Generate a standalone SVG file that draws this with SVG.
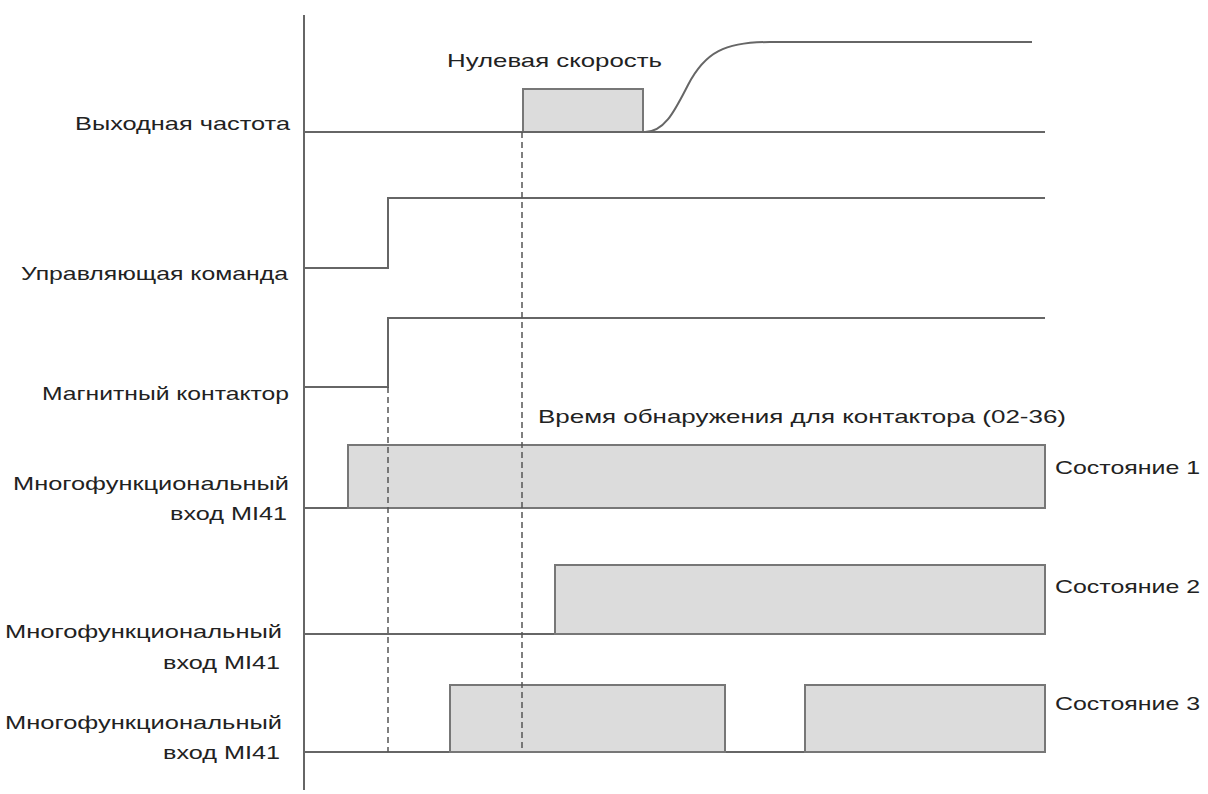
<svg xmlns="http://www.w3.org/2000/svg" width="1208" height="794" viewBox="0 0 1208 794">
<style>
.t{font-family:"Liberation Sans",Arial,sans-serif;font-size:19px;fill:#222}
.r{text-anchor:end}
.ln{fill:none;stroke:#666;stroke-width:2}
.bx{fill:#dcdcdc;stroke:#777;stroke-width:2}
.dash{fill:none;stroke:#555;stroke-width:1.5;stroke-dasharray:6 4}
</style>
<rect width="1208" height="794" fill="#fff"/>
<g id="axis"><line class="ln" x1="304" y1="15" x2="304" y2="790"/></g>
<g id="labels">
<text class="t r" x="290" y="130" textLength="215" lengthAdjust="spacingAndGlyphs">Выходная частота</text>
<text class="t r" x="288" y="280" textLength="267" lengthAdjust="spacingAndGlyphs">Управляющая команда</text>
<text class="t r" x="289" y="400" textLength="247" lengthAdjust="spacingAndGlyphs">Магнитный контактор</text>
<text class="t r" x="289" y="490" textLength="276" lengthAdjust="spacingAndGlyphs">Многофункциональный</text>
<text class="t r" x="287" y="520" textLength="117" lengthAdjust="spacingAndGlyphs">вход MI41</text>
<text class="t r" x="282" y="638" textLength="277" lengthAdjust="spacingAndGlyphs">Многофункциональный</text>
<text class="t r" x="280" y="669" textLength="117" lengthAdjust="spacingAndGlyphs">вход MI41</text>
<text class="t r" x="282" y="729" textLength="277" lengthAdjust="spacingAndGlyphs">Многофункциональный</text>
<text class="t r" x="280" y="759" textLength="117" lengthAdjust="spacingAndGlyphs">вход MI41</text>
<text class="t" x="447" y="67" textLength="215" lengthAdjust="spacingAndGlyphs">Нулевая скорость</text>
<text class="t" x="538" y="423" textLength="528" lengthAdjust="spacingAndGlyphs">Время обнаружения для контактора (02-36)</text>
<text class="t" x="1055" y="474" textLength="145" lengthAdjust="spacingAndGlyphs">Состояние 1</text>
<text class="t" x="1055" y="593" textLength="145" lengthAdjust="spacingAndGlyphs">Состояние 2</text>
<text class="t" x="1055" y="710" textLength="145" lengthAdjust="spacingAndGlyphs">Состояние 3</text>
</g>
<g id="freq">
<rect class="bx" x="523" y="89" width="120" height="43"/>
<line class="ln" x1="304" y1="132" x2="1045" y2="132"/>
<path class="ln" d="M645 132 C665 132 675 110 688 85 C705 52 725 42 770 42 L1032 42"/>
</g>
<g id="cmd"><polyline class="ln" points="304,268 388,268 388,198 1045,198"/></g>
<g id="contactor"><polyline class="ln" points="304,387 388,387 388,318 1045,318"/></g>
<g id="state1">
<line class="ln" x1="304" y1="508" x2="348" y2="508"/>
<rect class="bx" x="348" y="445" width="697" height="63"/>
</g>
<g id="state2">
<line class="ln" x1="304" y1="634" x2="555" y2="634"/>
<rect class="bx" x="555" y="565" width="490" height="69"/>
</g>
<g id="state3">
<line class="ln" x1="304" y1="752" x2="450" y2="752"/>
<line class="ln" x1="725" y1="752" x2="805" y2="752"/>
<rect class="bx" x="450" y="685" width="275" height="67"/>
<rect class="bx" x="805" y="685" width="240" height="67"/>
</g>
<g id="connectors">
<line class="dash" x1="388" y1="387" x2="388" y2="752"/>
<line class="dash" x1="522" y1="132" x2="522" y2="752"/>
</g>
</svg>
